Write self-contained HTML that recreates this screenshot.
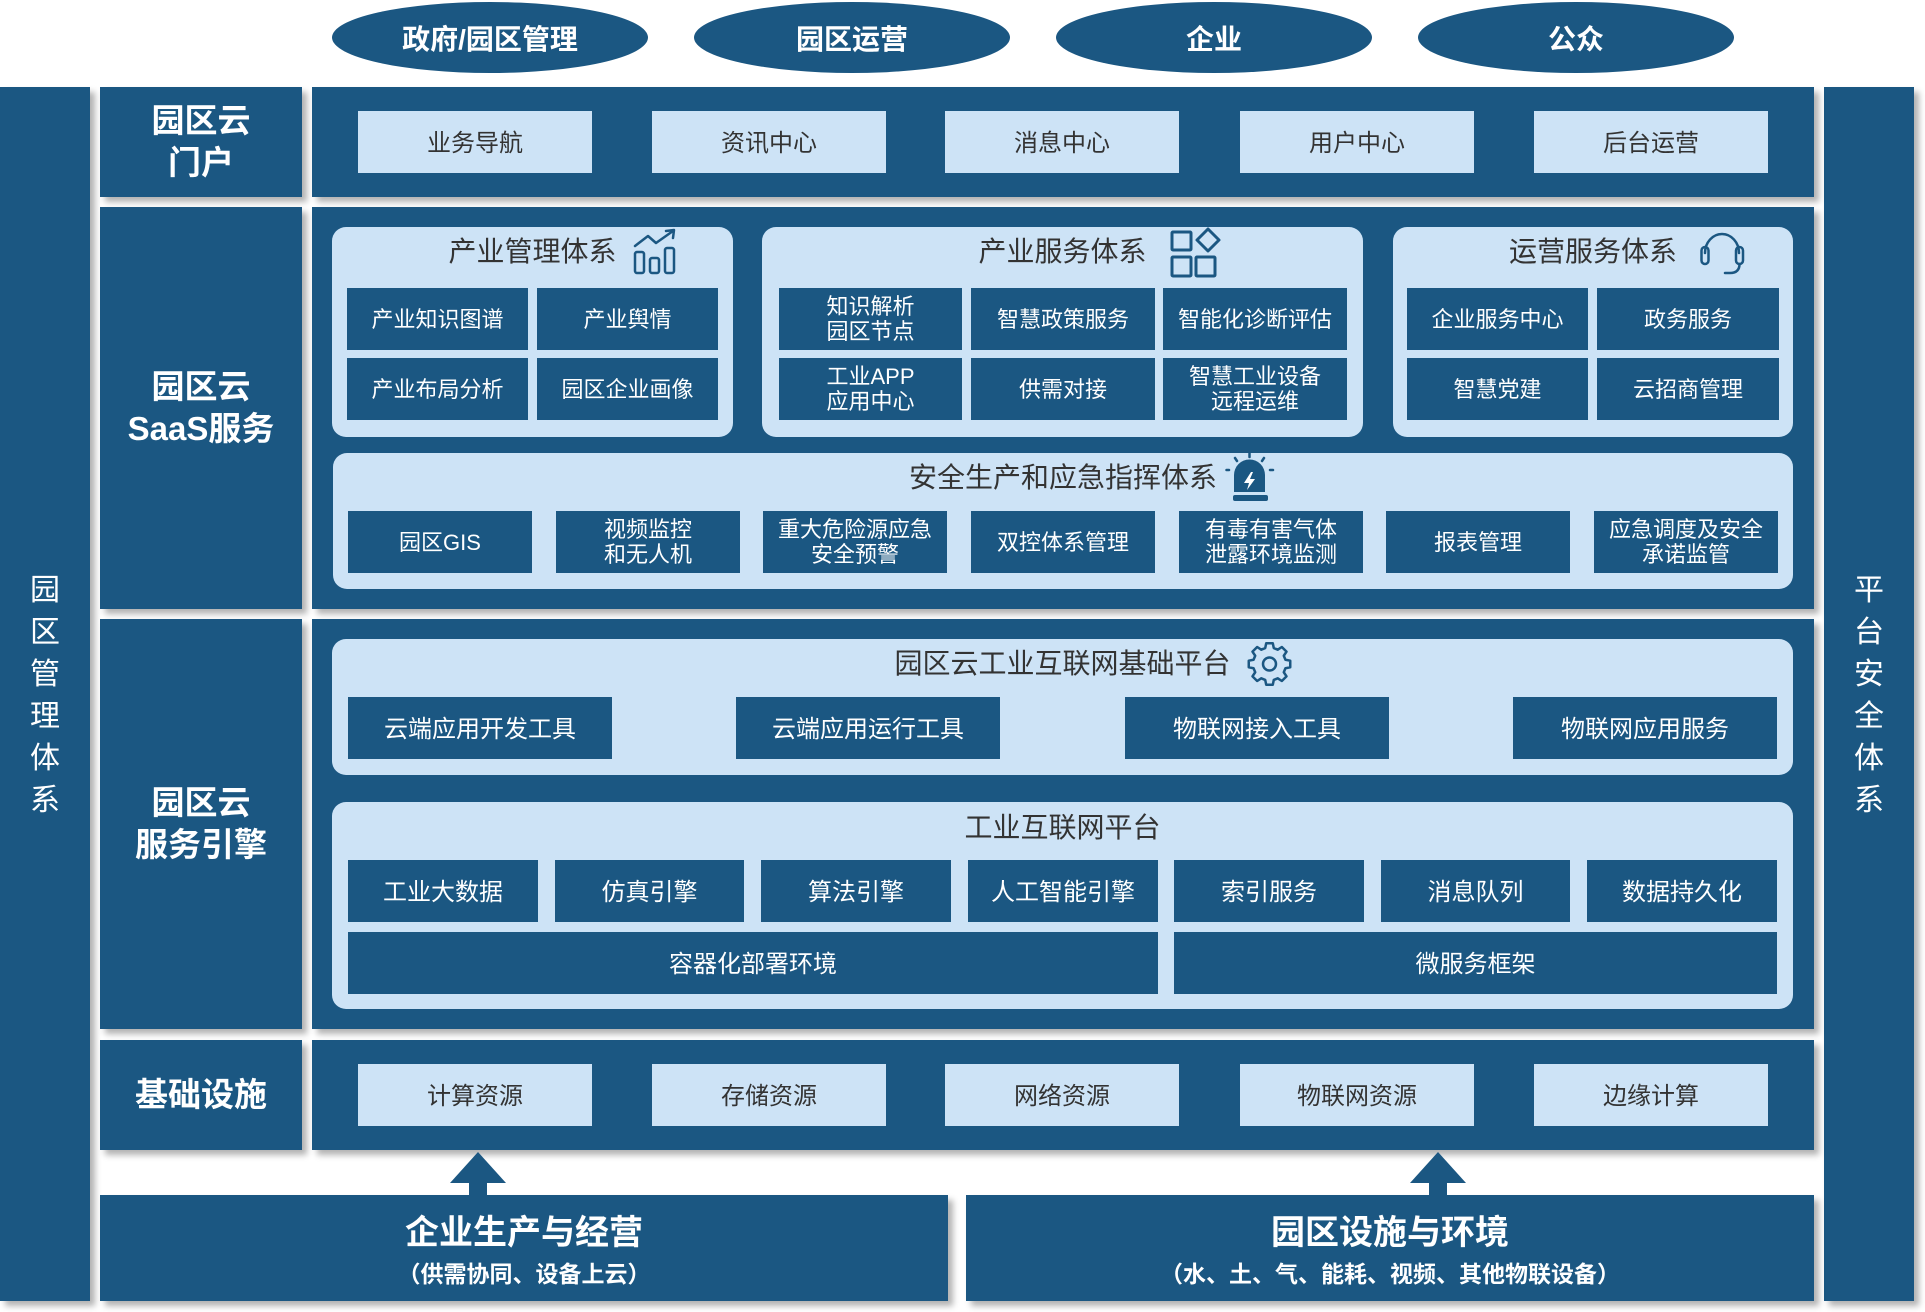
<!DOCTYPE html>
<html><head><meta charset="utf-8">
<style>
body{margin:0;width:1925px;height:1312px;background:#fff;position:relative;overflow:hidden;font-family:"Liberation Sans","Noto Sans CJK SC",sans-serif;}
.a{position:absolute;box-sizing:border-box;}
.d{background:#1b5782;color:#fff;}
.l{background:#cde3f6;color:#333;}
.c{display:flex;align-items:center;justify-content:center;text-align:center;}
.sh{box-shadow:5px 5px 6px rgba(0,0,0,.3);}
.p{border-radius:14px;}
.t22{font-size:22px;line-height:25px;}
.t24{font-size:24px;line-height:28px;padding-top:3px;}
.tt{font-size:28px;color:#333;line-height:34px;text-align:center;white-space:nowrap;}
.lab{font-size:33px;font-weight:bold;line-height:42px;}
.el{background:#1b5782;border-radius:50%;color:#fff;font-size:28px;font-weight:bold;}
.vt{font-size:30px;line-height:42px;color:#fff;padding-top:4px;}
</style></head><body>

<!-- top ellipses -->
<div class="a el c" style="left:332px;top:2px;width:316px;height:71px;">政府/园区管理</div>
<div class="a el c" style="left:694px;top:2px;width:316px;height:71px;">园区运营</div>
<div class="a el c" style="left:1056px;top:2px;width:316px;height:71px;">企业</div>
<div class="a el c" style="left:1418px;top:2px;width:316px;height:71px;">公众</div>

<!-- side bars -->
<div class="a d sh c vt" style="left:0;top:87px;width:90px;height:1214px;">园<br>区<br>管<br>理<br>体<br>系</div>
<div class="a d sh c vt" style="left:1824px;top:87px;width:90px;height:1214px;">平<br>台<br>安<br>全<br>体<br>系</div>

<!-- row labels -->
<div class="a d sh c lab" style="left:100px;top:87px;width:202px;height:110px;">园区云<br>门户</div>
<div class="a d sh c lab" style="left:100px;top:207px;width:202px;height:402px;">园区云<br>SaaS服务</div>
<div class="a d sh c lab" style="left:100px;top:619px;width:202px;height:410px;">园区云<br>服务引擎</div>
<div class="a d sh c lab" style="left:100px;top:1040px;width:202px;height:110px;">基础设施</div>

<!-- content panels -->
<div class="a d sh" style="left:312px;top:87px;width:1502px;height:110px;"></div>
<div class="a d sh" style="left:312px;top:207px;width:1502px;height:402px;"></div>
<div class="a d sh" style="left:312px;top:619px;width:1502px;height:410px;"></div>
<div class="a d sh" style="left:312px;top:1040px;width:1502px;height:110px;"></div>

<!-- portal boxes -->
<div class="a l c t24" style="left:358px;top:111px;width:234px;height:62px;">业务导航</div>
<div class="a l c t24" style="left:652px;top:111px;width:234px;height:62px;">资讯中心</div>
<div class="a l c t24" style="left:945px;top:111px;width:234px;height:62px;">消息中心</div>
<div class="a l c t24" style="left:1240px;top:111px;width:234px;height:62px;">用户中心</div>
<div class="a l c t24" style="left:1534px;top:111px;width:234px;height:62px;">后台运营</div>

<!-- SaaS panels -->
<div class="a l p" style="left:332px;top:227px;width:401px;height:210px;"></div>
<div class="a tt" style="left:332px;top:235px;width:401px;">产业管理体系</div>
<div class="a d c t22" style="left:347px;top:288px;width:181px;height:62px;">产业知识图谱</div>
<div class="a d c t22" style="left:537px;top:288px;width:181px;height:62px;">产业舆情</div>
<div class="a d c t22" style="left:347px;top:358px;width:181px;height:62px;">产业布局分析</div>
<div class="a d c t22" style="left:537px;top:358px;width:181px;height:62px;">园区企业画像</div>

<div class="a l p" style="left:762px;top:227px;width:601px;height:210px;"></div>
<div class="a tt" style="left:762px;top:235px;width:601px;">产业服务体系</div>
<div class="a d c t22" style="left:779px;top:288px;width:183px;height:62px;">知识解析<br>园区节点</div>
<div class="a d c t22" style="left:971px;top:288px;width:184px;height:62px;">智慧政策服务</div>
<div class="a d c t22" style="left:1163px;top:288px;width:184px;height:62px;">智能化诊断评估</div>
<div class="a d c t22" style="left:779px;top:358px;width:183px;height:62px;">工业APP<br>应用中心</div>
<div class="a d c t22" style="left:971px;top:358px;width:184px;height:62px;">供需对接</div>
<div class="a d c t22" style="left:1163px;top:358px;width:184px;height:62px;">智慧工业设备<br>远程运维</div>

<div class="a l p" style="left:1393px;top:227px;width:400px;height:210px;"></div>
<div class="a tt" style="left:1393px;top:235px;width:400px;">运营服务体系</div>
<div class="a d c t22" style="left:1407px;top:288px;width:181px;height:62px;">企业服务中心</div>
<div class="a d c t22" style="left:1597px;top:288px;width:182px;height:62px;">政务服务</div>
<div class="a d c t22" style="left:1407px;top:358px;width:181px;height:62px;">智慧党建</div>
<div class="a d c t22" style="left:1597px;top:358px;width:182px;height:62px;">云招商管理</div>

<!-- safety panel -->
<div class="a l p" style="left:333px;top:453px;width:1460px;height:136px;"></div>
<div class="a tt" style="left:333px;top:461px;width:1460px;">安全生产和应急指挥体系</div>
<div class="a d c t22" style="left:348px;top:511px;width:184px;height:62px;">园区GIS</div>
<div class="a d c t22" style="left:556px;top:511px;width:184px;height:62px;">视频监控<br>和无人机</div>
<div class="a d c t22" style="left:763px;top:511px;width:184px;height:62px;">重大危险源应急<br>安全预警</div>
<div class="a d c t22" style="left:971px;top:511px;width:184px;height:62px;">双控体系管理</div>
<div class="a d c t22" style="left:1179px;top:511px;width:184px;height:62px;">有毒有害气体<br>泄露环境监测</div>
<div class="a d c t22" style="left:1386px;top:511px;width:184px;height:62px;">报表管理</div>
<div class="a d c t22" style="left:1594px;top:511px;width:184px;height:62px;">应急调度及安全<br>承诺监管</div>

<!-- engine: platform -->
<div class="a l p" style="left:332px;top:639px;width:1461px;height:136px;"></div>
<div class="a tt" style="left:332px;top:647px;width:1461px;">园区云工业互联网基础平台</div>
<div class="a d c t24" style="left:348px;top:697px;width:264px;height:62px;">云端应用开发工具</div>
<div class="a d c t24" style="left:736px;top:697px;width:264px;height:62px;">云端应用运行工具</div>
<div class="a d c t24" style="left:1125px;top:697px;width:264px;height:62px;">物联网接入工具</div>
<div class="a d c t24" style="left:1513px;top:697px;width:264px;height:62px;">物联网应用服务</div>

<!-- engine: industrial platform -->
<div class="a l p" style="left:332px;top:802px;width:1461px;height:207px;"></div>
<div class="a tt" style="left:332px;top:811px;width:1461px;">工业互联网平台</div>
<div class="a d c t24" style="left:348px;top:860px;width:190px;height:62px;">工业大数据</div>
<div class="a d c t24" style="left:555px;top:860px;width:189px;height:62px;">仿真引擎</div>
<div class="a d c t24" style="left:761px;top:860px;width:190px;height:62px;">算法引擎</div>
<div class="a d c t24" style="left:968px;top:860px;width:190px;height:62px;">人工智能引擎</div>
<div class="a d c t24" style="left:1174px;top:860px;width:190px;height:62px;">索引服务</div>
<div class="a d c t24" style="left:1381px;top:860px;width:189px;height:62px;">消息队列</div>
<div class="a d c t24" style="left:1587px;top:860px;width:190px;height:62px;">数据持久化</div>
<div class="a d c t24" style="left:348px;top:932px;width:810px;height:62px;">容器化部署环境</div>
<div class="a d c t24" style="left:1174px;top:932px;width:603px;height:62px;">微服务框架</div>

<!-- infra boxes -->
<div class="a l c t24" style="left:358px;top:1064px;width:234px;height:62px;">计算资源</div>
<div class="a l c t24" style="left:652px;top:1064px;width:234px;height:62px;">存储资源</div>
<div class="a l c t24" style="left:945px;top:1064px;width:234px;height:62px;">网络资源</div>
<div class="a l c t24" style="left:1240px;top:1064px;width:234px;height:62px;">物联网资源</div>
<div class="a l c t24" style="left:1534px;top:1064px;width:234px;height:62px;">边缘计算</div>

<!-- bottom boxes -->
<div class="a d sh" style="left:100px;top:1195px;width:848px;height:106px;"></div>
<div class="a" style="left:100px;top:1213px;width:848px;text-align:center;color:#fff;font-size:34px;font-weight:bold;line-height:40px;">企业生产与经营</div>
<div class="a" style="left:100px;top:1259px;width:848px;text-align:center;color:#fff;font-size:23px;font-weight:bold;line-height:30px;">（供需协同、设备上云）</div>
<div class="a d sh" style="left:966px;top:1195px;width:848px;height:106px;"></div>
<div class="a" style="left:966px;top:1213px;width:848px;text-align:center;color:#fff;font-size:34px;font-weight:bold;line-height:40px;">园区设施与环境</div>
<div class="a" style="left:966px;top:1259px;width:848px;text-align:center;color:#fff;font-size:23px;font-weight:bold;line-height:30px;">（水、土、气、能耗、视频、其他物联设备）</div>

<!-- icons and arrows overlay -->
<svg class="a" style="left:0;top:0;" width="1925" height="1312" viewBox="0 0 1925 1312">
  <!-- arrows -->
  <polygon fill="#1b5782" points="478,1152 506,1183 487,1183 487,1196 469,1196 469,1183 450,1183"/>
  <polygon fill="#1b5782" points="1438,1152 1466,1183 1447,1183 1447,1196 1429,1196 1429,1183 1410,1183"/>
  <!-- chart icon -->
  <g fill="none" stroke="#1b5782" stroke-width="2.5" stroke-linejoin="round" stroke-linecap="round">
    <rect x="635" y="252" width="9" height="21" rx="2"/>
    <rect x="650" y="258" width="9" height="15" rx="2"/>
    <rect x="665" y="248" width="9" height="25" rx="2"/>
    <polyline points="635,246 648,236 656,243 673,231"/>
    <polyline points="666,231 674,230 673,238"/>
  </g>
  <!-- grid icon -->
  <g fill="none" stroke="#1b5782" stroke-width="3" stroke-linejoin="round">
    <rect x="1172" y="232" width="19" height="18" rx="1"/>
    <polygon points="1208,229 1219,240 1208,251 1197,240"/>
    <rect x="1172" y="257" width="19" height="19" rx="1"/>
    <rect x="1196" y="257" width="19" height="19" rx="1"/>
  </g>
  <!-- headset icon -->
  <g transform="translate(1700,231)" fill="none" stroke="#1b5782" stroke-width="2.5" stroke-linecap="round">
    <path d="M5,22 A17,19 0 0 1 39,22"/>
    <rect x="1.5" y="16" width="7" height="17" rx="3.5"/>
    <rect x="36" y="16" width="7" height="17" rx="3.5"/>
    <path d="M39.5,33 Q39.5,42 30,42 L25,42"/>
  </g>
  <!-- siren icon -->
  <g transform="translate(1226,453)">
    <path d="M8,39 L8,22 A15.5,15.5 0 0 1 39,22 L39,39 Z" fill="#1b5782"/>
    <rect x="7" y="42" width="35" height="6" rx="2" fill="#1b5782"/>
    <polygon points="25,19 18,30 23,30 21,37 29,26 24,26 27,19" fill="#fff"/>
    <g stroke="#1b5782" stroke-width="2.5" stroke-linecap="round">
      <line x1="23.5" y1="0.5" x2="23.5" y2="4"/>
      <line x1="9" y1="5" x2="11" y2="8"/>
      <line x1="38" y1="5" x2="36" y2="8"/>
      <line x1="0.5" y1="17" x2="3" y2="17"/>
      <line x1="44" y1="17" x2="47" y2="17"/>
    </g>
  </g>
  <!-- gear icon -->
  <g transform="translate(1246,641)" fill="none" stroke="#1b5782" stroke-width="2.5" stroke-linejoin="round">
    <polygon points="39.44,18.73 44.24,19.71 44.24,26.29 39.44,27.27 37.79,31.25 40.49,35.34 35.84,39.99 31.75,37.29 27.77,38.94 26.79,43.74 20.21,43.74 19.23,38.94 15.25,37.29 11.16,39.99 6.51,35.34 9.21,31.25 7.56,27.27 2.76,26.29 2.76,19.71 7.56,18.73 9.21,14.75 6.51,10.66 11.16,6.01 15.25,8.71 19.23,7.06 20.21,2.26 26.79,2.26 27.77,7.06 31.75,8.71 35.84,6.01 40.49,10.66 37.79,14.75"/>
    <circle cx="23.5" cy="23" r="6.5"/>
  </g>
</svg>
</body></html>
